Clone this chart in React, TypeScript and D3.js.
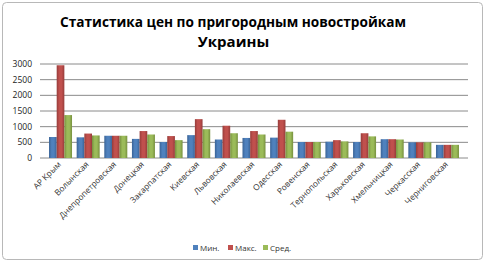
import React from "react";
import * as d3 from "d3";

const categories = [
  "АР Крым", "Волынская", "Днепропетровская", "Донецкая", "Закарпатская",
  "Киевская", "Львовская", "Николаевская", "Одесская", "Ровенская",
  "Тернопольская", "Харьковская", "Хмельницкая", "Черкасская", "Черниговская",
];
const seriesNames = ["Мин.", "Макс.", "Сред."];
const minValues = [670, 660, 710, 610, 510, 730, 590, 640, 650, 510, 520, 510, 600, 500, 420];
const maxValues = [2960, 780, 710, 860, 700, 1240, 1030, 860, 1220, 510, 570, 790, 600, 500, 420];
const avgValues = [1370, 720, 710, 750, 570, 920, 790, 750, 840, 510, 530, 690, 590, 500, 420];
const yTicks = [0, 500, 1000, 1500, 2000, 2500, 3000];
const colors = ["#4F81BD", "#C0504D", "#9BBB59"];
const darkColors = ["#3A6396", "#963C3A", "#77903F"];

export default function App() {
  const W = 485, H = 264;
  const series = [minValues, maxValues, avgValues];
  const x = d3.scaleBand<string>().domain(categories).range([46.7, 461.3]).paddingInner(0.168).paddingOuter(0.084);
  const xs = d3.scaleBand<number>().domain([0, 1, 2]).range([0, x.bandwidth()]);
  const y = d3.scaleLinear().domain([0, 3000]).range([158, 64]);
  const font = "'Open Sans', 'Liberation Sans', sans-serif";

  return (
    <svg width={W} height={H} style={{ position: "absolute", left: 0, top: 0, background: "#fff" }} fontFamily={font}>
      <defs>
        {colors.map((c, i) => (
          <linearGradient key={i} id={"g" + i} x1="0" x2="1" y1="0" y2="0">
            <stop offset="0" stopColor={darkColors[i]} />
            <stop offset="0.35" stopColor={c} />
            <stop offset="0.65" stopColor={c} />
            <stop offset="1" stopColor={darkColors[i]} />
          </linearGradient>
        ))}
      </defs>
      <rect x={2.5} y={2.5} width={480} height={257} rx={4} fill="#fff" stroke="#b8b8b8" />
      <text x={233} y={27} textAnchor="middle" fontSize={15} fontWeight="bold" fill="#000" textLength={346} lengthAdjust="spacingAndGlyphs">
        Статистика цен по пригородным новостройкам
      </text>
      <text x={233.5} y={47} textAnchor="middle" fontSize={15} fontWeight="bold" fill="#000">
        Украины
      </text>
      {yTicks.map((t) => (
        <g key={t}>
          <line x1={40} x2={468} y1={y(t)} y2={y(t)} stroke="#8a8a8a" strokeWidth={1} />
          <text x={32} y={y(t) + 3} textAnchor="end" fontSize={8.5} fill="#222">{t}</text>
        </g>
      ))}
      {categories.map((c, ci) => (
        <g key={c}>
          {series.map((s, si) => (
            <rect
              key={si}
              x={(x(c) as number) + (xs(si) as number)}
              y={y(s[ci])}
              width={xs.bandwidth()}
              height={y(0) - y(s[ci])}
              fill={`url(#g${si})`}
            />
          ))}
          <text
            transform={`translate(${(x(c) as number) + x.bandwidth() / 2 + 1},${165}) rotate(-45)`}
            textAnchor="end"
            fontSize={8.3}
            fill="#333"
          >
            {c}
          </text>
        </g>
      ))}
      {seriesNames.map((n, i) => {
        const lx = [193, 228, 263][i];
        return (
          <g key={n}>
            <rect x={lx} y={245} width={5} height={5} fill={colors[i]} />
            <text x={lx + 7} y={250.5} fontSize={8} fill="#333">{n}</text>
          </g>
        );
      })}
    </svg>
  );
}
